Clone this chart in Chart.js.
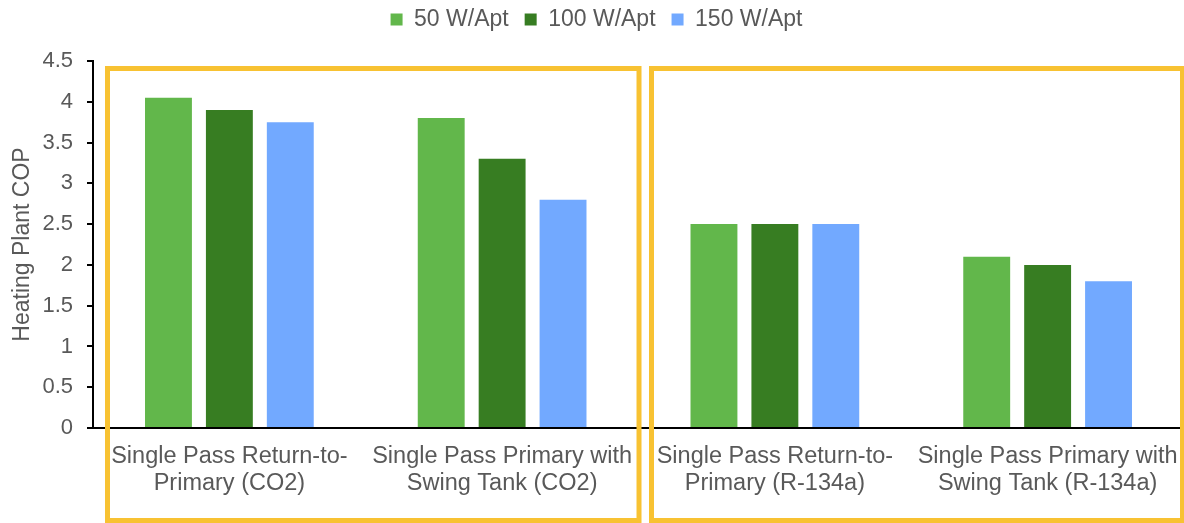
<!DOCTYPE html>
<html>
<head>
<meta charset="utf-8">
<script src="https://cdn.jsdelivr.net/npm/chart.js@4"></script>
<style>
  html, body { margin: 0; padding: 0; background: #fff; }
  #wrap { width: 1184px; height: 523px; position: relative; }
</style>
</head>
<body>
<div id="wrap"><canvas id="myChart"></canvas></div>
<script>
// categories (two lines each)
const categories = [
  ["Single Pass Return-to-", "Primary (CO2)"],
  ["Single Pass Primary with", "Swing Tank (CO2)"],
  ["Single Pass Return-to-", "Primary (R-134a)"],
  ["Single Pass Primary with", "Swing Tank (R-134a)"]
];

// series values
const w50 = [4.05, 3.8, 2.5, 2.1];
const w100 = [3.9, 3.3, 2.5, 2.0];
const w150 = [3.75, 2.8, 2.5, 1.8];

const seriesNames = ["50 W/Apt", "100 W/Apt", "150 W/Apt"];
const seriesColors = ["#62B74B", "#377D22", "#72A9FF"];

// y axis ticks
const yMin = 0;
const yMax = 4.5;
const yStep = 0.5;

const textGrey = "#595959";
const font = 'Liberation Sans, Arial, sans-serif';

// yellow boxes around the CO2 and R-134a groups
const groupBoxes = {
  id: 'groupBoxes',
  afterDraw(chart) {
    const ctx = chart.ctx;
    ctx.save();
    ctx.strokeStyle = '#F8C232';
    ctx.lineWidth = 5;
    ctx.strokeRect(107.5, 68.5, 531.5, 452);
    ctx.strokeRect(651.5, 68.5, 531, 452);
    ctx.restore();
  }
};

// give the legend some extra room below it so the plot starts lower
const legendSpace = {
  id: 'legendSpace',
  beforeInit(chart) {
    const fitOrig = chart.legend.fit;
    chart.legend.fit = function () {
      fitOrig.call(this);
      this.height += 20;
    };
  }
};

const myChart = document.getElementById("myChart");

let barChart = new Chart(myChart, {
  type: 'bar',
  data: {
    labels: categories,
    datasets: [
      { label: seriesNames[0], data: w50, backgroundColor: seriesColors[0] },
      { label: seriesNames[1], data: w100, backgroundColor: seriesColors[1] },
      { label: seriesNames[2], data: w150, backgroundColor: seriesColors[2] }
    ]
  },
  options: {
    responsive: true,
    maintainAspectRatio: false,
    animation: false,
    layout: { padding: { left: 9, right: 0, top: -8, bottom: 0 } },
    datasets: {
      bar: { categoryPercentage: 0.67, barPercentage: 0.77 }
    },
    plugins: {
      legend: {
        position: 'top',
        labels: {
          boxWidth: 12,
          boxHeight: 12,
          color: textGrey,
          font: { family: font, size: 23 },
          padding: 16
        }
      },
      tooltip: { enabled: false }
    },
    scales: {
      x: {
        grid: { display: false, drawTicks: false },
        border: { display: true, color: '#000', width: 2 },
        ticks: {
          color: textGrey,
          font: { family: font, size: 23.5, lineHeight: 1.15 },
          maxRotation: 0,
          autoSkip: false,
          padding: 15
        },
        afterFit(scale) {
          scale.height = 95;
          scale.paddingLeft = 0;
          scale.paddingRight = 0;
        }
      },
      y: {
        min: yMin,
        max: yMax,
        ticks: {
          stepSize: yStep,
          color: textGrey,
          font: { family: font, size: 22 },
          padding: 14,
          callback: v => String(v)
        },
        grid: { drawOnChartArea: false, drawTicks: true, tickLength: 6, color: '#000', lineWidth: 2 },
        border: { display: true, color: '#000', width: 2 },
        title: {
          display: true,
          text: 'Heating Plant COP',
          color: textGrey,
          font: { family: font, size: 23 },
          padding: { top: 0, bottom: 0 }
        },
        afterFit(scale) { scale.width = 84; }
      }
    }
  },
  plugins: [groupBoxes, legendSpace]
});
</script>
</body>
</html>
